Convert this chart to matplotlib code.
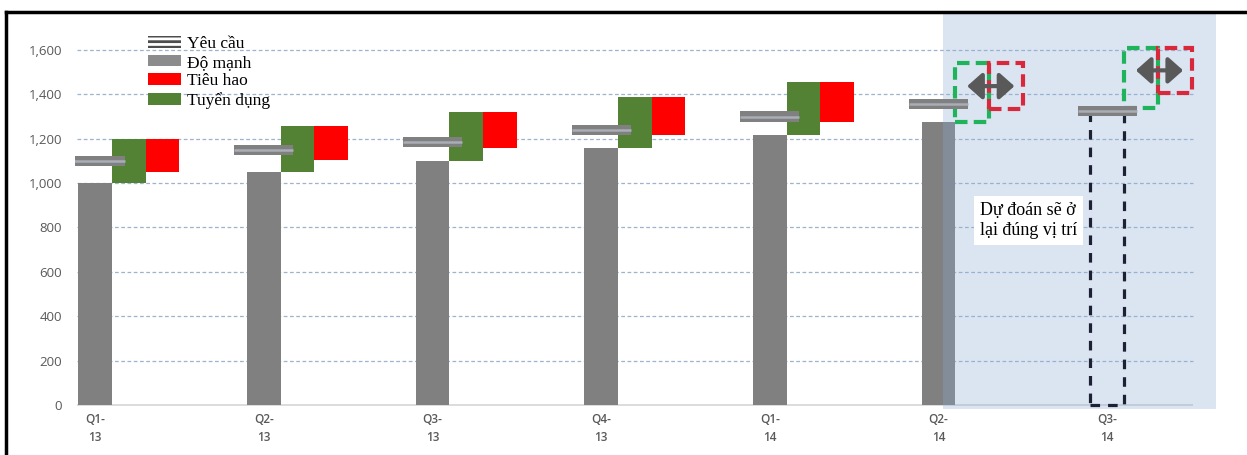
import numpy as np
import matplotlib.pyplot as plt
from matplotlib.patches import Patch
from matplotlib.lines import Line2D

# quý và số liệu nhân sự
quarters = ['Q1-\n13', 'Q2-\n13', 'Q3-\n13', 'Q4-\n13', 'Q1-\n14', 'Q2-\n14', 'Q3-\n14']
strength = [1000, 1050, 1100, 1160, 1215, 1275]      # độ mạnh thực tế
hiring = [200, 207, 220, 230, 240]                   # tuyển dụng
attrition = [150, 153, 160, 175, 180]                # tiêu hao
requirement = [1100, 1150, 1185, 1240, 1300, 1355, 1325]

# dự báo (Q2-14 -> Q3-14)
fc_base = [1275, 1340]
fc_hiring = [265, 270]
fc_attrition = [206, 204]
fc_strength_q3 = 1340

GRAY = '#808080'
GREEN = '#538234'
RED = '#ff0000'
TXT = '#595959'

plt.rcParams['hatch.linewidth'] = 2.0

W, H = 1247, 455
fig = plt.figure(figsize=(W / 100, H / 100), dpi=100)
fig.patch.set_facecolor('white')

# khung trục: 1 đơn vị x = 168.7 px, 1 đơn vị y = 0.2219 px
ppu = 168.7
x_lo, x_hi = -0.12, 6.7
left_px = 95 + x_lo * ppu
right_px = 95 + x_hi * ppu
ax = fig.add_axes([left_px / W, (H - 409) / H, (right_px - left_px) / W, (409 - 12) / H])
ax.set_xlim(x_lo, x_hi)
ax.set_ylim(-18, 1771)
for s in ax.spines.values():
    s.set_visible(False)

x = np.arange(len(quarters))
n = len(strength)
m = len(hiring)

# lưới ngang nét đứt
ax.hlines(np.arange(200, 1601, 200), -0.107, 6.51, colors='#9fb4cc',
          linestyles=(0, (3, 2)), lw=0.9, zorder=1)
ax.hlines(0, -0.107, 6.51, colors='#d9d9d9', lw=1.3, zorder=1)

# cột độ mạnh, tuyển dụng, tiêu hao
ax.bar(x[:n], strength, width=0.2, color=GRAY, zorder=2)
top = np.array(strength[:m]) + np.array(hiring)
ax.bar(x[:m] + 0.2, hiring, bottom=strength[:m], width=0.2, color=GREEN, zorder=2)
ax.bar(x[:m] + 0.4, attrition, bottom=top - np.array(attrition), width=0.2, color=RED, zorder=2)

# vùng dự báo
ax.axvspan(5.027, 6.645, color='#8aacd4', alpha=0.3, lw=0, zorder=2.5)

# ô nét đứt cho dự báo
xf = x[n - 1:]
fc_top = np.array(fc_base) + np.array(fc_hiring)
ax.bar(xf + 0.2, fc_hiring, bottom=fc_base, width=0.2, fill=False,
       edgecolor='#1fb35b', linestyle=(0, (3, 1.5)), lw=3, zorder=4)
ax.bar(xf + 0.4, fc_attrition, bottom=fc_top - np.array(fc_attrition), width=0.2, fill=False,
       edgecolor='#d9283c', linestyle=(0, (3, 1.5)), lw=3, zorder=4)
ax.bar(x[-1], fc_strength_q3, width=0.2, fill=False, edgecolor='#1c2233',
       linestyle=(0, (3, 2.5)), lw=2.3, zorder=3)

# mũi tên hai chiều
for xi, t, a in zip(xf, fc_top, fc_attrition):
    yc = t - a / 2
    ax.annotate('', xy=(xi + 0.45, yc), xytext=(xi + 0.17, yc),
                arrowprops=dict(arrowstyle='<|-|>,head_length=0.45,head_width=0.4',
                                mutation_scale=20, lw=3, color='#595959',
                                shrinkA=0, shrinkB=0), zorder=7)

# đường yêu cầu
req = np.array(requirement)
ax.bar(x, 46, bottom=req - 23, width=0.35, color=GRAY, zorder=5)
ax.hlines(req, x - 0.175, x + 0.175, colors='#a9adb5', lw=1.8, zorder=6)

# chú thích
ax.text(5.245, 832, 'Dự đoán sẽ ở\nlại đúng vị trí', family='Liberation Serif', size=13,
        va='center', ha='left', color='black', linespacing=1.25, zorder=8,
        bbox=dict(fc='white', ec='none', pad=4))

# trục
ax.set_yticks(np.arange(0, 1601, 200))
ax.set_yticklabels([f'{v:,}' for v in range(0, 1601, 200)], family='Open Sans',
                   size=9.5, color=TXT)
ax.set_xticks(x)
ax.set_xticklabels(quarters, family='Open Sans', size=8.5, color=TXT,
                   fontweight='semibold', linespacing=1.5)
ax.tick_params(axis='y', length=0, pad=9)
ax.tick_params(axis='x', length=0, pad=3)

# chú giải
handles = [Patch(facecolor='white', edgecolor='#4d4d4d', hatch='---', lw=0),
           Patch(facecolor='#8c8c8c'),
           Patch(facecolor=RED),
           Patch(facecolor=GREEN)]
labels = ['Yêu cầu', 'Độ mạnh', 'Tiêu hao', 'Tuyển dụng']
fig.legend(handles, labels, loc='upper left', bbox_to_anchor=(136 / W, 1 - 24 / H),
           frameon=False, prop={'family': 'Liberation Serif', 'size': 12.5},
           handlelength=1.9, handleheight=0.65, handletextpad=0.35,
           labelspacing=0.15, borderpad=0.2)

# viền ngoài
fig.add_artist(Line2D([6 / W, 1], [1 - 12 / H] * 2, color='black', lw=2.5,
                      transform=fig.transFigure))
fig.add_artist(Line2D([6 / W] * 2, [0, 1 - 12 / H], color='black', lw=2.5,
                      transform=fig.transFigure))

plt.savefig('out.png', dpi=100)
